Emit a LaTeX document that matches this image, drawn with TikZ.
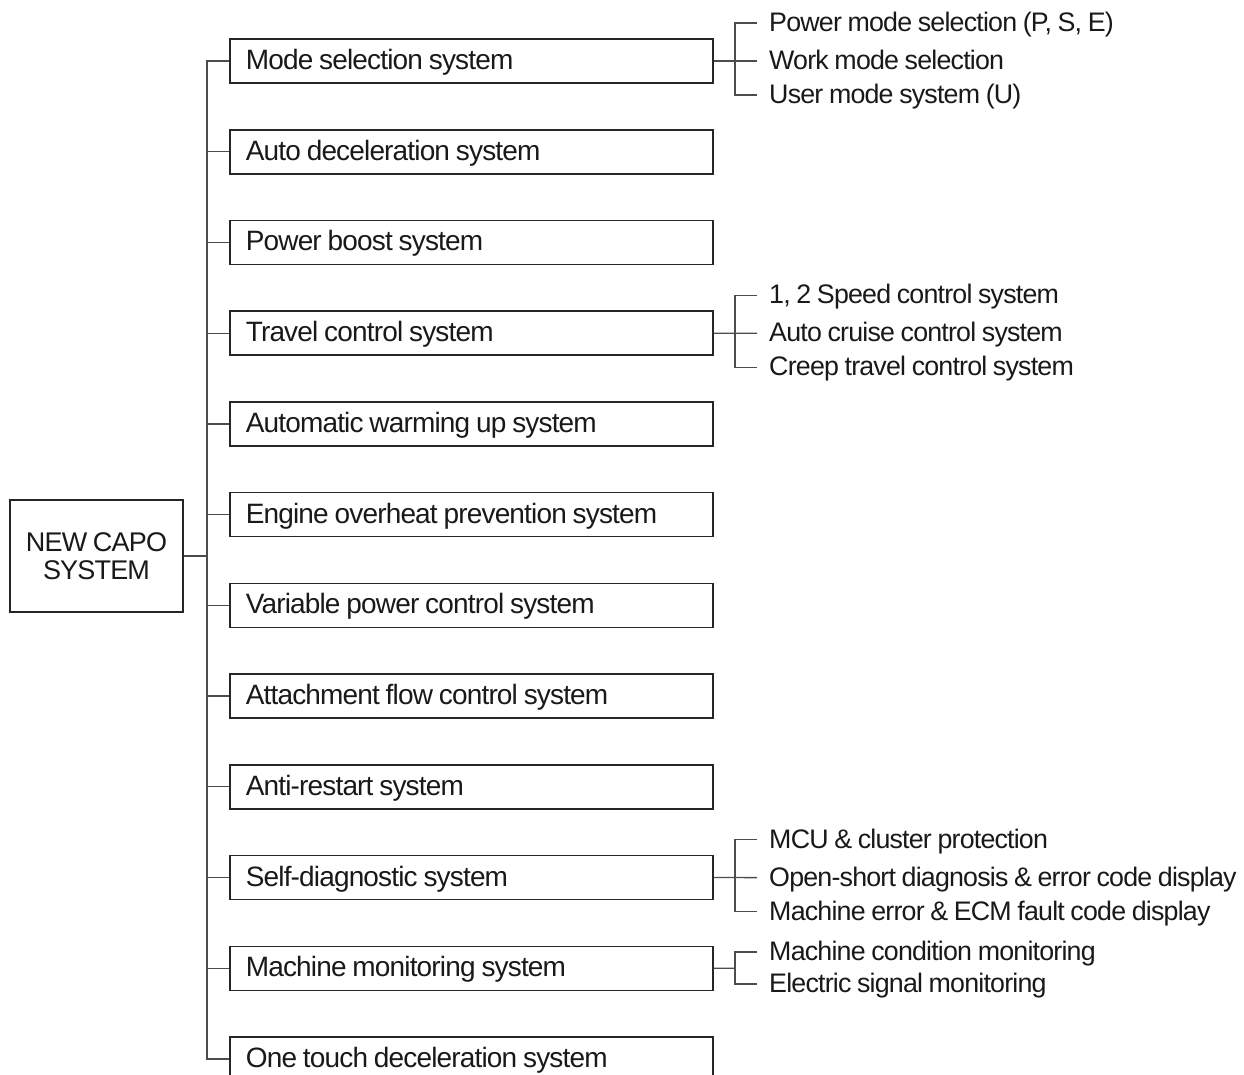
\documentclass[tikz,border=0pt]{standalone}
\usepackage{fontspec}
\setmainfont{Liberation Sans}[LetterSpace=-3, WordSpace=0.85]
\usepackage{xcolor}
\usepackage{tikz}
\usetikzlibrary{positioning}

\tikzset{
  rootbox/.style={draw=black!85, line width=1.6pt, text=black!90, minimum width=173pt, minimum height=112pt, align=center, font=\fontsize{27}{28.5}\selectfont},
  sysbox/.style={draw=black!85, line width=1.6pt, text=black!90, anchor=west, minimum height=44pt, text width=451pt, inner xsep=16pt, align=flush left, text height=20pt, text depth=3pt, font=\fontsize{28}{30}\selectfont},
  feature/.style={anchor=west, text=black!90, inner xsep=12pt, inner ysep=0pt, text height=17pt, text depth=0pt, font=\fontsize{26.8}{30}\selectfont},
  link/.style={draw=black!70, line width=1.3pt},
}

\begin{document}
\begin{tikzpicture}[x=1pt, y=-1pt]
    \useasboundingbox (0,0) rectangle (1244,1075);

    % Root
    \node[rootbox] (root) at (96.5,556) {NEW CAPO\\SYSTEM};
    \coordinate (trunk) at (207,556);

    % Systems
    \foreach \name/\txt [count=\i from 0] in {mode/Mode selection system, autodecel/Auto deceleration system, boost/Power boost system, travel/Travel control system, warmup/Automatic warming up system, overheat/Engine overheat prevention system, varpower/Variable power control system, attach/Attachment flow control system, antirestart/Anti-restart system, selfdiag/Self-diagnostic system, monitor/Machine monitoring system, onetouch/One touch deceleration system}
        \node[sysbox] (\name) at (229, 61+\i*90.73) {\txt};

    % Trunk
    \draw[link] (root) -- (trunk);
    \draw[link] (mode.west) -| (trunk) |- (onetouch.west);
    \foreach \name in {autodecel, boost, travel, warmup, overheat, varpower, attach, antirestart, selfdiag, monitor}
        \draw[link] (trunk |- \name.west) -- (\name.west);

    % Mode selection
    \node[feature] (powermode) at (757,23) {Power mode selection (P, S, E)};
    \node[feature] (workmode) at (757,61) {Work mode selection};
    \node[feature] (usermode) at (757,95) {User mode system (U)};
    \coordinate (modefork) at (735,61);
    \draw[link] (mode.east) -- (workmode.west);
    \draw[link] (powermode.west) -| (modefork) |- (usermode.west);

    % Travel control
    \node[feature] (speed) at (757,295.2) {1, 2 Speed control system};
    \node[feature] (cruise) at (757,333.2) {Auto cruise control system};
    \node[feature] (creep) at (757,367.2) {Creep travel control system};
    \coordinate (travelfork) at (735,333.2);
    \draw[link] (travel.east) -- (cruise.west);
    \draw[link] (speed.west) -| (travelfork) |- (creep.west);

    % Self-diagnostic
    \node[feature] (mcu) at (757,839.6) {MCU \& cluster protection};
    \node[feature] (openshort) at (757,877.6) {Open-short diagnosis \& error code display};
    \node[feature] (ecm) at (757,911.6) {Machine error \& ECM fault code display};
    \coordinate (diagfork) at (735,877.6);
    \draw[link] (selfdiag.east) -- (openshort.west);
    \draw[link] (mcu.west) -| (diagfork) |- (ecm.west);

    % Machine monitoring
    \node[feature] (condition) at (757,952) {Machine condition monitoring};
    \node[feature] (signal) at (757,984) {Electric signal monitoring};
    \coordinate (monfork) at (735,968.3);
    \draw[link] (monitor.east) -- (monfork);
    \draw[link] (condition.west) -| (monfork) |- (signal.west);
\end{tikzpicture}
\end{document}
